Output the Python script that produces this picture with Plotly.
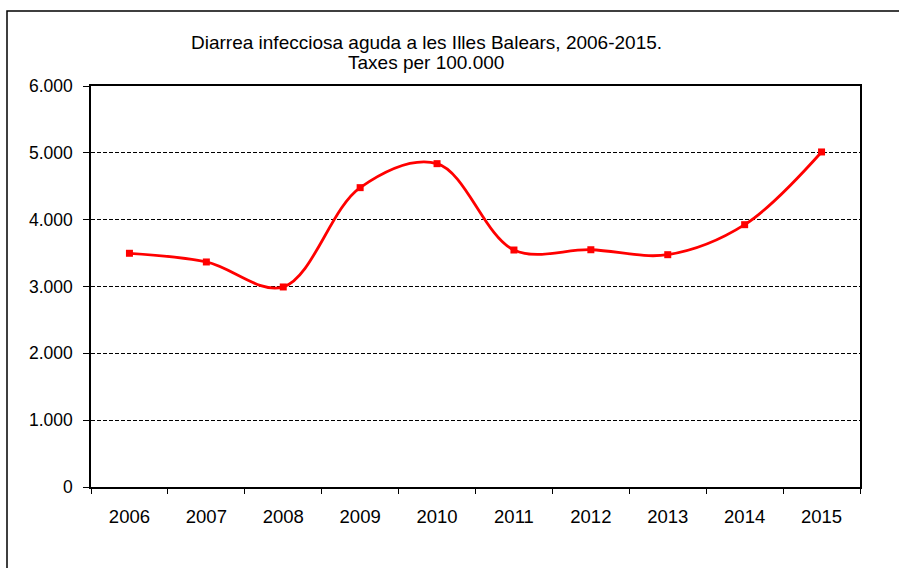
import plotly.graph_objects as go

years = ["2006", "2007", "2008", "2009", "2010", "2011", "2012", "2013", "2014", "2015"]
rates = [3497, 3367, 2993, 4479, 4838, 3546, 3550, 3476, 3925, 5013]
y_tickvals = [0, 1000, 2000, 3000, 4000, 5000, 6000]
y_ticktext = ["0", "1.000", "2.000", "3.000", "4.000", "5.000", "6.000"]
title_line1 = "Diarrea infecciosa aguda a les Illes Balears, 2006-2015."
title_line2 = "Taxes per 100.000"

W, H = 899, 568
ml, mr, mt, mb = 91, 39, 86, 81
pw, ph = W - ml - mr, H - mt - mb

def px_x(px):
    return (px - ml) / pw

def px_y(py):
    return (H - mb - py) / ph

fig = go.Figure()
fig.add_trace(go.Scatter(
    x=years, y=rates, mode="lines+markers",
    line=dict(color="#ff0000", width=2.8, shape="spline", smoothing=1),
    marker=dict(symbol="square", size=7, color="#ff0000"),
    showlegend=False, hoverinfo="x+y",
))

font_family = "Liberation Sans, Arial, sans-serif"

fig.update_layout(
    width=W, height=H,
    margin=dict(l=ml, r=mr, t=mt, b=mb),
    paper_bgcolor="white", plot_bgcolor="white",
    font=dict(family=font_family, size=16, color="black"),
    xaxis=dict(
        type="category", range=[-0.5, 9.5], tickson="boundaries",
        ticks="outside", ticklen=5, tickwidth=1, tickcolor="black",
        showline=True, linecolor="black", linewidth=1.5, mirror=True,
        showgrid=False, zeroline=False, ticklabelstandoff=12,
        tickfont=dict(size=18.5),
    ),
    yaxis=dict(
        range=[0, 6000], tickvals=y_tickvals, ticktext=y_ticktext,
        ticks="outside", ticklen=6, tickwidth=1, tickcolor="black",
        showline=True, linecolor="black", linewidth=1.5, mirror=True,
        showgrid=True, gridcolor="black", gridwidth=1, griddash="4px,2px",
        zeroline=False, ticklabelstandoff=7,
        tickfont=dict(size=17.5),
    ),
    annotations=[
        dict(text=title_line1, xref="paper", yref="paper", x=px_x(426), y=px_y(43),
             xanchor="center", yanchor="middle", showarrow=False,
             font=dict(family=font_family, size=19, color="black")),
        dict(text=title_line2, xref="paper", yref="paper", x=px_x(426), y=px_y(63),
             xanchor="center", yanchor="middle", showarrow=False,
             font=dict(family=font_family, size=19, color="black")),
    ],
    shapes=[dict(type="rect", xref="paper", yref="paper",
                 x0=px_x(7), x1=px_x(905), y0=px_y(575), y1=px_y(11),
                 line=dict(color="black", width=1.5), fillcolor="rgba(0,0,0,0)",
                 layer="below")],
)

fig.write_html("out.html", config={"displayModeBar": False},
               post_script="document.body.style.margin='0';")
